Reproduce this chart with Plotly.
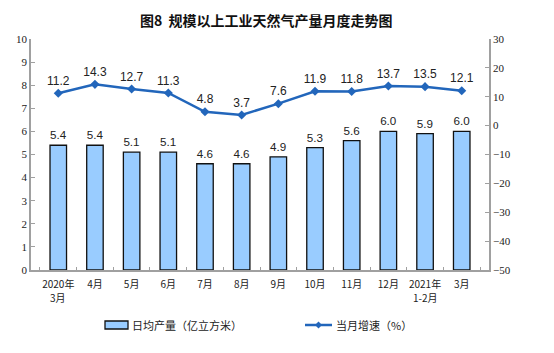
import plotly.graph_objects as go

categories = ["2020年<br>3月", "4月", "5月", "6月", "7月", "8月", "9月", "10月", "11月", "12月", "2021年<br>1-2月", "3月"]
daily_output = [5.4, 5.4, 5.1, 5.1, 4.6, 4.6, 4.9, 5.3, 5.6, 6.0, 5.9, 6.0]
growth = [11.2, 14.3, 12.7, 11.3, 4.8, 3.7, 7.6, 11.9, 11.8, 13.7, 13.5, 12.1]
left_ticks = list(range(0, 11))
right_ticks = list(range(-50, 31, 10))
bar_name = "日均产量（亿立方米）"
line_name = "当月增速（%）"

W, H = 554, 353
ml, mr, mt, mb = 31, 65, 39, 83
pw = W - ml - mr
ph = H - mt - mb

def px(x):
    return (x - ml) / pw

def py(y):
    return (H - mb - y) / ph

BLUE = "#2266BB"
xfont = dict(family="Noto Sans CJK SC", size=10, color="#222222")

fig = go.Figure()
fig.add_trace(go.Bar(
    x=categories, y=daily_output, name=bar_name,
    marker=dict(color="#99CCFF", line=dict(color="#111111", width=1.3)),
    width=0.45,
    text=[f"{v:.1f}" for v in daily_output], textposition="outside",
    textfont=dict(family="Arial, Liberation Sans", size=12, color="#222222"),
    cliponaxis=False,
))
fig.add_trace(go.Scatter(
    x=categories, y=growth, name=line_name, yaxis="y2",
    mode="lines+markers+text",
    line=dict(color=BLUE, width=2.5),
    marker=dict(symbol="diamond", size=7, color=BLUE),
    text=[f"{v:.1f}" for v in growth], textposition="top center",
    textfont=dict(family="Arial, Liberation Sans", size=12, color="#222222"),
    cliponaxis=False,
))

shapes = [
    dict(type="rect", xref="paper", yref="paper",
         x0=px(105), x1=px(128), y0=py(329), y1=py(321),
         fillcolor="#99CCFF", line=dict(color="#111111", width=1.3)),
    dict(type="line", xref="paper", yref="paper",
         x0=px(305), x1=px(332), y0=py(325), y1=py(325),
         line=dict(color=BLUE, width=2.5)),
    dict(type="path", xref="paper", yref="paper",
         path=f"M {px(318.5)} {py(321.5)} L {px(322)} {py(325)} L {px(318.5)} {py(328.5)} L {px(315)} {py(325)} Z",
         fillcolor=BLUE, line=dict(color=BLUE, width=0)),
]

legend_font = dict(family="Noto Sans CJK SC", size=11, color="#222222")
annotations = [
    dict(text="<b>图8  规模以上工业天然气产量月度走势图</b>",
         xref="paper", yref="paper", x=px(266), y=py(20),
         xanchor="center", yanchor="middle", showarrow=False,
         font=dict(family="Noto Sans CJK SC", size=14, color="#111111")),
    dict(text=bar_name, xref="paper", yref="paper", x=px(130), y=py(325),
         xanchor="left", yanchor="middle", showarrow=False, font=legend_font),
    dict(text=line_name, xref="paper", yref="paper", x=px(334), y=py(325),
         xanchor="left", yanchor="middle", showarrow=False, font=legend_font),
]

# two-line category labels: first line as tick label, second line as annotation
first_lines = [c.split("<br>")[0] for c in categories]
for c in categories:
    parts = c.split("<br>")
    if len(parts) > 1:
        annotations.append(dict(
            text=parts[1], xref="x", yref="paper", x=c, y=py(297),
            xanchor="center", yanchor="middle", showarrow=False, font=xfont))

axis_line = dict(showline=True, linecolor="#A0A0A0", linewidth=1.5)
tick_font = dict(family="Liberation Serif, Times New Roman", size=11, color="#222222")

fig.update_layout(
    width=W, height=H,
    margin=dict(l=ml, r=mr, t=mt, b=mb),
    paper_bgcolor="white", plot_bgcolor="white",
    showlegend=False,
    xaxis=dict(
        **axis_line, showgrid=False, automargin=False,
        tickmode="array", tickvals=categories, ticktext=first_lines,
        tickson="boundaries", ticks="inside", ticklen=3, tickcolor="#A0A0A0",
        ticklabelstandoff=4, tickangle=0,
        tickfont=xfont,
    ),
    yaxis=dict(
        range=[0, 10], tickvals=left_ticks, showgrid=False, zeroline=False,
        **axis_line, automargin=False,
        ticks="inside", ticklen=4, tickcolor="#A0A0A0", tickfont=tick_font,
    ),
    yaxis2=dict(
        range=[-50, 30], tickvals=right_ticks, overlaying="y", side="right",
        showgrid=False, zeroline=False, **axis_line, automargin=False,
        ticks="inside", ticklen=4, tickcolor="#A0A0A0", tickfont=tick_font,
    ),
    shapes=shapes,
    annotations=annotations,
)
fig.write_html("out.html")
